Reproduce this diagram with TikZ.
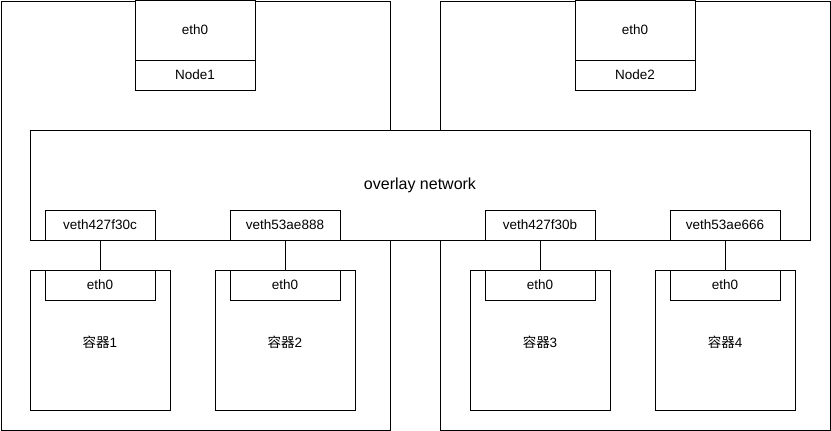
\documentclass[tikz,border=0pt]{standalone}
\usepackage{fontspec}
\setmainfont{Liberation Sans}
\newfontfamily\cjk{Noto Sans CJK SC}
\begin{document}
\begin{tikzpicture}[x=1pt,y=-1pt,
  lbl/.style={font=\fontsize{13.5}{16}\selectfont},
  box/.style={draw=black,line width=1pt,fill=white,inner sep=0pt,lbl},
  wire/.style={draw=black,line width=1pt}]
\useasboundingbox (0,0) rectangle (831,431);
% hosts
\draw[line width=1pt] (1,1) rectangle (390,430);
\draw[line width=1pt] (440,1) rectangle (830,430);
% node boxes
\node[box,minimum width=120pt,minimum height=60pt] (n1eth) at (195,30) {eth0};
\node[box,minimum width=120pt,minimum height=30pt] (n1) at (195,75) {Node1};
\node[box,minimum width=120pt,minimum height=60pt] (n2eth) at (635,30) {eth0};
\node[box,minimum width=120pt,minimum height=30pt] (n2) at (635,75) {Node2};
% overlay
\node[box,minimum width=780pt,minimum height=110pt] (ov) at (420,185) {};
\node[font=\fontsize{16}{19}\selectfont] (ovl) at (420,185) {overlay network};
% veths
\node[box,minimum width=110pt,minimum height=30pt] (v1) at (100,225) {veth427f30c};
\node[box,minimum width=110pt,minimum height=30pt] (v2) at (285,225) {veth53ae888};
\node[box,minimum width=110pt,minimum height=30pt] (v3) at (540,225) {veth427f30b};
\node[box,minimum width=110pt,minimum height=30pt] (v4) at (725,225) {veth53ae666};
% containers
\node[box,minimum width=140pt,minimum height=140pt] (c1) at (100,340) {};
\node[box,minimum width=140pt,minimum height=140pt] (c2) at (285,340) {};
\node[box,minimum width=140pt,minimum height=140pt] (c3) at (540,340) {};
\node[box,minimum width=140pt,minimum height=140pt] (c4) at (725,340) {};
\node[lbl] (c1l) at (100,342) {{\cjk 容器}1};
\node[lbl] (c2l) at (285,342) {{\cjk 容器}2};
\node[lbl] (c3l) at (540,342) {{\cjk 容器}3};
\node[lbl] (c4l) at (725,342) {{\cjk 容器}4};
\node[box,minimum width=110pt,minimum height=30pt] (e1) at (100,285) {eth0};
\node[box,minimum width=110pt,minimum height=30pt] (e2) at (285,285) {eth0};
\node[box,minimum width=110pt,minimum height=30pt] (e3) at (540,285) {eth0};
\node[box,minimum width=110pt,minimum height=30pt] (e4) at (725,285) {eth0};
% wires
\draw[wire] (v1.south) -- (e1.north);
\draw[wire] (v2.south) -- (e2.north);
\draw[wire] (v3.south) -- (e3.north);
\draw[wire] (v4.south) -- (e4.north);
\end{tikzpicture}
\end{document}
